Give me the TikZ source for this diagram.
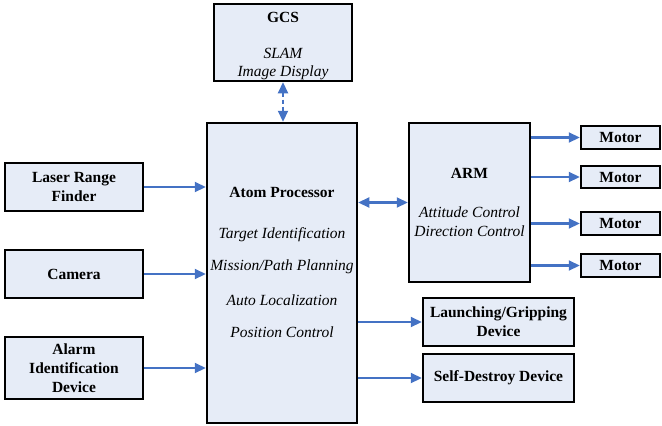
\documentclass[tikz,border=0pt]{standalone}
\usepackage{fontspec}
\setmainfont{Liberation Serif}
\usetikzlibrary{arrows.meta}
\definecolor{boxfill}{RGB}{230,236,247}
\definecolor{arrblue}{RGB}{68,114,196}
\tikzset{
  blk/.style={draw=black, line width=2.5pt, fill=boxfill, inner sep=0pt, anchor=center,
    font=\fontsize{15.5}{19}\selectfont\bfseries, align=center},
  ttl/.style={font=\fontsize{15.5}{19}\selectfont\bfseries, inner sep=0pt, anchor=center},
  itl/.style={font=\fontsize{15.5}{19}\selectfont\itshape, inner sep=0pt, anchor=center},
  arr/.style={draw=arrblue, line width=2.2pt, -{Triangle[length=11pt,width=10pt]}},
  darr/.style={draw=arrblue, line width=2.2pt, {Triangle[length=11pt,width=10pt]}-{Triangle[length=11pt,width=10pt]}},
}
\begin{document}
\begin{tikzpicture}[x=1pt,y=-1pt]
\useasboundingbox (0,0) rectangle (662,426);
% boxes
\node[blk, minimum width=138pt, minimum height=77pt] (gcs) at (283,42.5) {};
\node[blk, minimum width=150pt, minimum height=300pt] (atom) at (282,273) {};
\node[blk, minimum width=138pt, minimum height=48pt] (laser) at (74,187) {Laser Range\\Finder};
\node[blk, minimum width=138pt, minimum height=48pt] (camera) at (74,274) {Camera};
\node[blk, minimum width=138pt, minimum height=62pt] (alarm) at (74,368) {Alarm\\Identification\\Device};
\node[blk, minimum width=121pt, minimum height=159pt] (arm) at (469.5,202.5) {};
\node[blk, minimum width=79pt, minimum height=23pt] (m1) at (620.5,137.5) {Motor};
\node[blk, minimum width=79pt, minimum height=22pt] (m2) at (620.5,177) {Motor};
\node[blk, minimum width=79pt, minimum height=23pt] (m3) at (620.5,223.5) {Motor};
\node[blk, minimum width=79pt, minimum height=23pt] (m4) at (620.5,265.5) {Motor};
\node[blk, minimum width=151pt, minimum height=48pt] (launch) at (498.5,322) {Launching/Gripping\\Device};
\node[blk, minimum width=151pt, minimum height=48pt] (self) at (498.5,378) {Self-Destroy Device};
% texts
\node[ttl] (gcsT) at (283,17) {GCS};
\node[itl] (gcsA) at (283,53) {SLAM};
\node[itl] (gcsB) at (283,73) {Image Display};
\node[ttl] (atomT) at (282,192) {Atom Processor};
\node[itl] (atomA) at (282,235) {Target Identification};
\node[itl] (atomB) at (282,267) {Mission/Path Planning};
\node[itl] (atomC) at (282,300) {Auto Localization};
\node[itl] (atomD) at (282,332) {Position Control};
\node[ttl] (armT) at (469.5,173) {ARM};
\node[itl] (armA) at (469.5,212) {Attitude Control};
\node[itl] (armB) at (469.5,231) {Direction Control};
% connectors
\draw[darr, dash pattern=on 4pt off 3pt] (gcs.south) -- (gcs.south |- atom.north);
\draw[arr] (laser.east) -- (laser.east -| atom.west);
\draw[arr] (camera.east) -- (camera.east -| atom.west);
\draw[arr] (alarm.east) -- (alarm.east -| atom.west);
\draw[darr] (atom.east |- arm.west) -- (arm.west);
\draw[arr] (arm.east |- m1.west) -- (m1.west);
\draw[arr] (arm.east |- m2.west) -- (m2.west);
\draw[arr] (arm.east |- m3.west) -- (m3.west);
\draw[arr] (arm.east |- m4.west) -- (m4.west);
\draw[arr] (atom.east |- launch.west) -- (launch.west);
\draw[arr] (atom.east |- self.west) -- (self.west);
\end{tikzpicture}
\end{document}
